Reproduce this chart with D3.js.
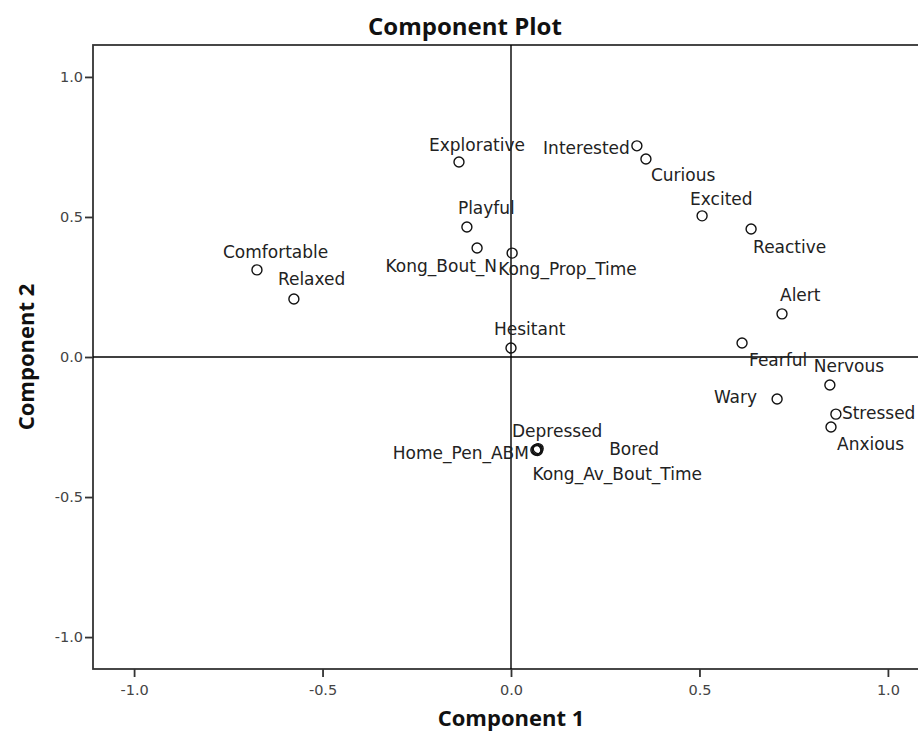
<!DOCTYPE html>
<html>
<head>
<meta charset="utf-8">
<script src="https://cdn.jsdelivr.net/npm/d3@7/dist/d3.min.js"></script>
<style>
  html, body { margin: 0; padding: 0; background: #fff; }
  svg { display: block; }
</style>
</head>
<body>
<svg id="chart" width="918" height="736"></svg>
<script>
// ---- data ----
const variables = ["Explorative","Interested","Curious","Excited","Reactive","Playful","Kong_Bout_N","Kong_Prop_Time","Comfortable","Relaxed","Hesitant","Alert","Fearful","Nervous","Wary","Stressed","Anxious","Depressed","Home_Pen_ABM","Bored","Kong_Av_Bout_Time"];
const component1 = [-0.138, 0.334, 0.358, 0.507, 0.637, -0.117, -0.090, 0.003, -0.674, -0.576, 0.000, 0.719, 0.613, 0.846, 0.706, 0.862, 0.849, 0.069, 0.066, 0.072, 0.070];
const component2 = [0.696, 0.754, 0.707, 0.504, 0.457, 0.464, 0.389, 0.371, 0.311, 0.207, 0.032, 0.154, 0.050, -0.100, -0.150, -0.204, -0.250, -0.329, -0.332, -0.327, -0.334];
const tickValues = [-1.0, -0.5, 0.0, 0.5, 1.0];
const tickLabels = ["-1.0", "-0.5", "0.0", "0.5", "1.0"];

// label placement (layout only): [dx, dy, anchor]
const labelPlacement = {
  "Explorative": [-30, -11, "start"],
  "Interested": [-7, 8, "end"],
  "Curious": [5, 22, "start"],
  "Excited": [-12, -11, "start"],
  "Reactive": [2, 24, "start"],
  "Playful": [-9, -13, "start"],
  "Kong_Bout_N": [20, 24, "end"],
  "Kong_Prop_Time": [-14, 22, "start"],
  "Comfortable": [-34, -12, "start"],
  "Relaxed": [-16, -14, "start"],
  "Hesitant": [-17, -13, "start"],
  "Alert": [-2, -13, "start"],
  "Fearful": [7, 23, "start"],
  "Nervous": [-16, -13, "start"],
  "Wary": [-20, 4, "end"],
  "Stressed": [6, 5, "start"],
  "Anxious": [6, 23, "start"],
  "Depressed": [-25, -12, "start"],
  "Home_Pen_ABM": [-7, 9, "end"],
  "Bored": [71, 6, "start"],
  "Kong_Av_Bout_Time": [-5, 29, "start"]
};

const points = variables.map((v, i) => ({ name: v, x: component1[i], y: component2[i] }));

// ---- layout ----
const svg = d3.select("#chart");
const plotLeft = 93, plotTop = 45, plotBottom = 669, plotRight = 929;
const x = d3.scaleLinear().domain([-1.109, 1.109]).range([plotLeft, plotRight]);
const y = d3.scaleLinear().domain([-1.114, 1.114]).range([plotBottom, plotTop]);

const frameColor = "#333";

// frame
svg.append("rect")
  .attr("x", plotLeft).attr("y", plotTop)
  .attr("width", plotRight - plotLeft).attr("height", plotBottom - plotTop)
  .attr("fill", "none").attr("stroke", frameColor).attr("stroke-width", 1.8);

// zero reference lines
svg.append("line")
  .attr("x1", x(0)).attr("x2", x(0)).attr("y1", plotTop).attr("y2", plotBottom)
  .attr("stroke", "#000").attr("stroke-width", 1.4);
svg.append("line")
  .attr("x1", plotLeft).attr("x2", plotRight).attr("y1", y(0)).attr("y2", y(0))
  .attr("stroke", "#000").attr("stroke-width", 1.4);

// axes
const xAxis = d3.axisBottom(x).tickValues(tickValues)
  .tickFormat((d, i) => tickLabels[i]).tickSize(8).tickSizeOuter(0);
const yAxis = d3.axisLeft(y).tickValues(tickValues)
  .tickFormat((d, i) => tickLabels[i]).tickSize(8).tickSizeOuter(0);

const gx = svg.append("g").attr("transform", `translate(0,${plotBottom})`).call(xAxis);
const gy = svg.append("g").attr("transform", `translate(${plotLeft},0)`).call(yAxis);
[gx, gy].forEach(g => {
  g.select(".domain").remove();
  g.selectAll(".tick line").attr("stroke", frameColor).attr("stroke-width", 1.8);
  g.selectAll(".tick text")
    .attr("font-family", "DejaVu Sans, sans-serif")
    .attr("font-size", 14.5)
    .attr("fill", "#444");
});
gx.selectAll(".tick text").attr("y", 16).attr("dy", "0.71em");
gy.selectAll(".tick text").attr("x", -10);

// points
svg.append("g").selectAll("circle").data(points).join("circle")
  .attr("cx", d => x(d.x)).attr("cy", d => y(d.y)).attr("r", 5)
  .attr("fill", "none").attr("stroke", "#111").attr("stroke-width", 1.4);

// labels
svg.append("g").selectAll("text").data(points).join("text")
  .attr("x", d => x(d.x) + labelPlacement[d.name][0])
  .attr("y", d => y(d.y) + labelPlacement[d.name][1])
  .attr("text-anchor", d => labelPlacement[d.name][2])
  .attr("font-family", "DejaVu Sans, sans-serif")
  .attr("font-size", 17)
  .attr("fill", "#222")
  .text(d => d.name);

// titles
const titleFont = "'Open Sans', sans-serif";
svg.append("text")
  .attr("x", 465).attr("y", 35)
  .attr("text-anchor", "middle")
  .attr("font-family", titleFont).attr("font-weight", "bold").attr("font-size", 24)
  .attr("fill", "#111")
  .text("Component Plot");
svg.append("text")
  .attr("x", x(0)).attr("y", 726)
  .attr("text-anchor", "middle")
  .attr("font-family", titleFont).attr("font-weight", "bold").attr("font-size", 22)
  .attr("fill", "#111")
  .text("Component 1");
svg.append("text")
  .attr("transform", `translate(34,${y(0)}) rotate(-90)`)
  .attr("text-anchor", "middle")
  .attr("font-family", titleFont).attr("font-weight", "bold").attr("font-size", 22)
  .attr("fill", "#111")
  .text("Component 2");
</script>
</body>
</html>
